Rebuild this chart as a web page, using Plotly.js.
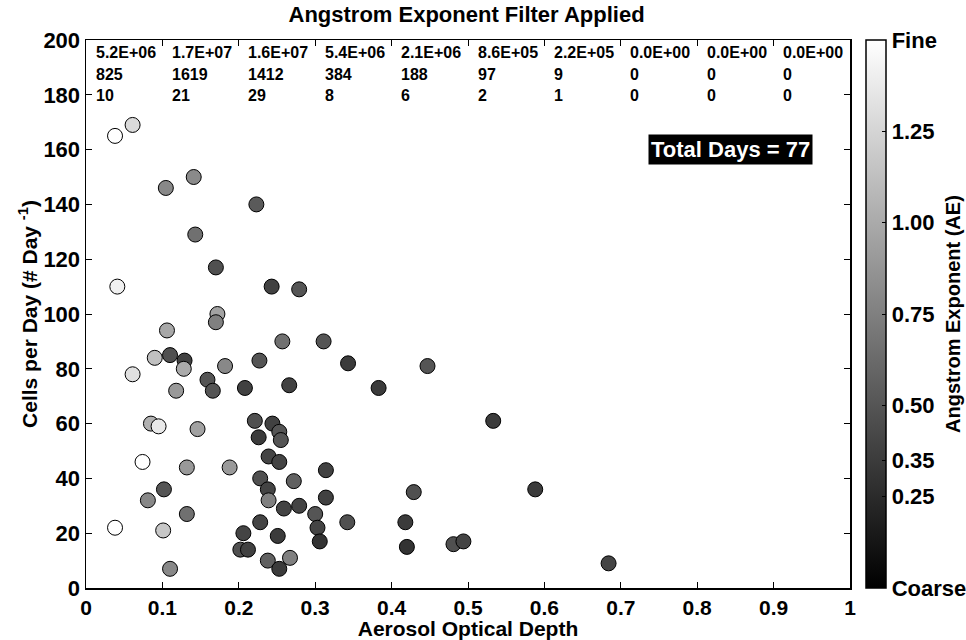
<!DOCTYPE html>
<html>
<head>
<meta charset="utf-8">
<script src="https://cdn.plot.ly/plotly-3.0.1.min.js"></script>
<style>html,body{margin:0;padding:0;background:#fff;}#chart{width:966px;height:640px;}</style>
</head>
<body>
<div id="chart"></div>
<script>
// Aerosol optical depth of each day
const aod = [0.038,0.061,0.1045,0.141,0.223,0.143,0.170,0.041,0.243,0.279,
  0.172,0.170,0.106,0.257,0.311,0.090,0.110,0.129,0.128,0.182,
  0.227,0.061,0.159,0.166,0.118,0.208,0.266,0.085,0.095,0.146,
  0.221,0.244,0.253,0.226,0.255,0.074,0.132,0.188,0.239,0.253,
  0.314,0.228,0.272,0.238,0.102,0.239,0.314,0.081,0.259,0.279,
  0.300,0.132,0.228,0.303,0.038,0.101,0.206,0.251,0.306,0.202,
  0.212,0.238,0.267,0.253,0.110,0.343,0.383,0.342,0.447,0.533,
  0.429,0.588,0.418,0.420,0.481,0.494,0.684];
// Cells per day
const cells = [165,169,146,150,140,129,117,110,110,109,
  100,97,94,90,90,84,85,83,80,81,
  83,78,76,72,72,73,74,60,59,58,
  61,60,57,55,54,46,44,44,48,46,
  43,40,39,36,36,32,33,32,29,30,
  27,27,24,22,22,21,20,19,17,14,
  14,10,11,7,7,82,73,24,81,61,
  35,36,24,15,16,17,9];
// Angstrom exponent of each day
const ae = [1.50,1.28,0.80,0.81,0.53,0.66,0.47,1.41,0.38,0.50,
  0.95,0.75,0.99,0.66,0.50,1.13,0.47,0.38,1.00,0.80,
  0.50,1.32,0.50,0.50,0.90,0.38,0.38,1.04,1.37,0.95,
  0.47,0.38,0.50,0.35,0.50,1.50,0.90,0.90,0.40,0.40,
  0.38,0.47,0.57,0.40,0.50,0.75,0.38,0.80,0.40,0.40,
  0.50,0.66,0.40,0.40,1.50,1.17,0.40,0.35,0.30,0.47,
  0.38,0.57,0.75,0.35,0.80,0.35,0.35,0.47,0.50,0.35,
  0.47,0.35,0.35,0.30,0.47,0.40,0.40];

// Per-bin summary rows (AOD bins of width 0.1)
const binStarts = [0,0.1,0.2,0.3,0.4,0.5,0.6,0.7,0.8,0.9];
const binTotals = ['5.2E+06','1.7E+07','1.6E+07','5.4E+06','2.1E+06','8.6E+05','2.2E+05','0.0E+00','0.0E+00','0.0E+00'];
const binCells = ['825','1619','1412','384','188','97','9','0','0','0'];
const binDays = ['10','21','29','8','6','2','1','0','0','0'];

// Colorbar ticks
const cbTickVals = [0,0.25,0.35,0.5,0.75,1.0,1.25,1.5];
const cbTickText = ['Coarse','0.25','0.35','0.50','0.75','1.00','1.25','Fine'];

const totalDays = 77;

const FONT = 'Liberation Sans, Arial, sans-serif';

const trace = {
  type: 'scatter',
  mode: 'markers',
  x: aod,
  y: cells,
  marker: {
    size: 15,
    color: ae,
    cmin: 0,
    cmax: 1.5,
    colorscale: [[0,'rgb(0,0,0)'],[1,'rgb(255,255,255)']],
    line: {color: '#000', width: 1},
    showscale: true,
    colorbar: {
      x: 1.0203, xanchor: 'left', xpad: 0,
      y: 0.5, yanchor: 'middle', len: 1, lenmode: 'fraction', ypad: 0,
      thickness: 20,
      outlinewidth: 1.5, outlinecolor: '#000',
      tickmode: 'array', tickvals: cbTickVals, ticktext: cbTickText,
      ticks: 'inside', ticklen: 4, tickcolor: '#000',
      tickfont: {family: FONT, size: 22, color: '#000', weight: 'bold'}
    }
  },
  hoverinfo: 'x+y'
};

const annotations = [];
const rowY = [195.3, 187.5, 179.8];
const rows = [binTotals, binCells, binDays];
rows.forEach((row, r) => {
  row.forEach((txt, i) => {
    annotations.push({
      x: binStarts[i] + 0.010, y: rowY[r], xref: 'x', yref: 'y',
      text: txt, showarrow: false, xanchor: 'left', yanchor: 'middle',
      font: {family: FONT, size: 16, color: '#000', weight: 'bold'}
    });
  });
});
annotations.push({
  x: 0.843, y: 160, xref: 'x', yref: 'y',
  text: 'Total Days = ' + totalDays, showarrow: false,
  xanchor: 'center', yanchor: 'middle',
  bgcolor: '#000', borderpad: 2,
  font: {family: FONT, size: 22, color: '#fff', weight: 'bold'}
});
annotations.push({
  x: 1.1348, y: 0.5, xref: 'paper', yref: 'paper',
  text: 'Angstrom Exponent (AE)', showarrow: false, textangle: -90,
  xanchor: 'center', yanchor: 'middle',
  font: {family: FONT, size: 20, color: '#000', weight: 'bold'}
});

const layout = {
  width: 966, height: 640,
  margin: {l: 86, r: 116, t: 40, b: 52, autoexpand: false},
  paper_bgcolor: '#fff', plot_bgcolor: '#fff',
  font: {family: FONT, color: '#000', weight: 'bold'},
  showlegend: false,
  title: {
    text: 'Angstrom Exponent Filter Applied',
    x: 0.483, xanchor: 'center', y: 0.977, yanchor: 'middle',
    font: {family: FONT, size: 22, color: '#000', weight: 'bold'}
  },
  xaxis: {
    range: [0, 1], dtick: 0.1, tick0: 0,
    showgrid: false, zeroline: false,
    showline: true, linecolor: '#000', linewidth: 1.5, mirror: 'ticks',
    ticks: 'inside', ticklen: 6, tickcolor: '#000', tickwidth: 1,
    tickfont: {family: FONT, size: 21, color: '#000', weight: 'bold'},
    title: {text: 'Aerosol Optical Depth', standoff: 1,
      font: {family: FONT, size: 21, color: '#000', weight: 'bold'}}
  },
  yaxis: {
    range: [0, 200], dtick: 20, tick0: 0,
    showgrid: false, zeroline: false,
    showline: true, linecolor: '#000', linewidth: 1.5, mirror: 'ticks',
    ticks: 'inside', ticklen: 6, tickcolor: '#000', tickwidth: 1,
    tickfont: {family: FONT, size: 22, color: '#000', weight: 'bold'},
    title: {text: 'Cells per Day (# Day <sup>-1</sup>)', standoff: 0,
      font: {family: FONT, size: 21, color: '#000', weight: 'bold'}}
  },
  annotations: annotations
};

Plotly.newPlot('chart', [trace], layout, {displayModeBar: false, staticPlot: true});
</script>
</body>
</html>
